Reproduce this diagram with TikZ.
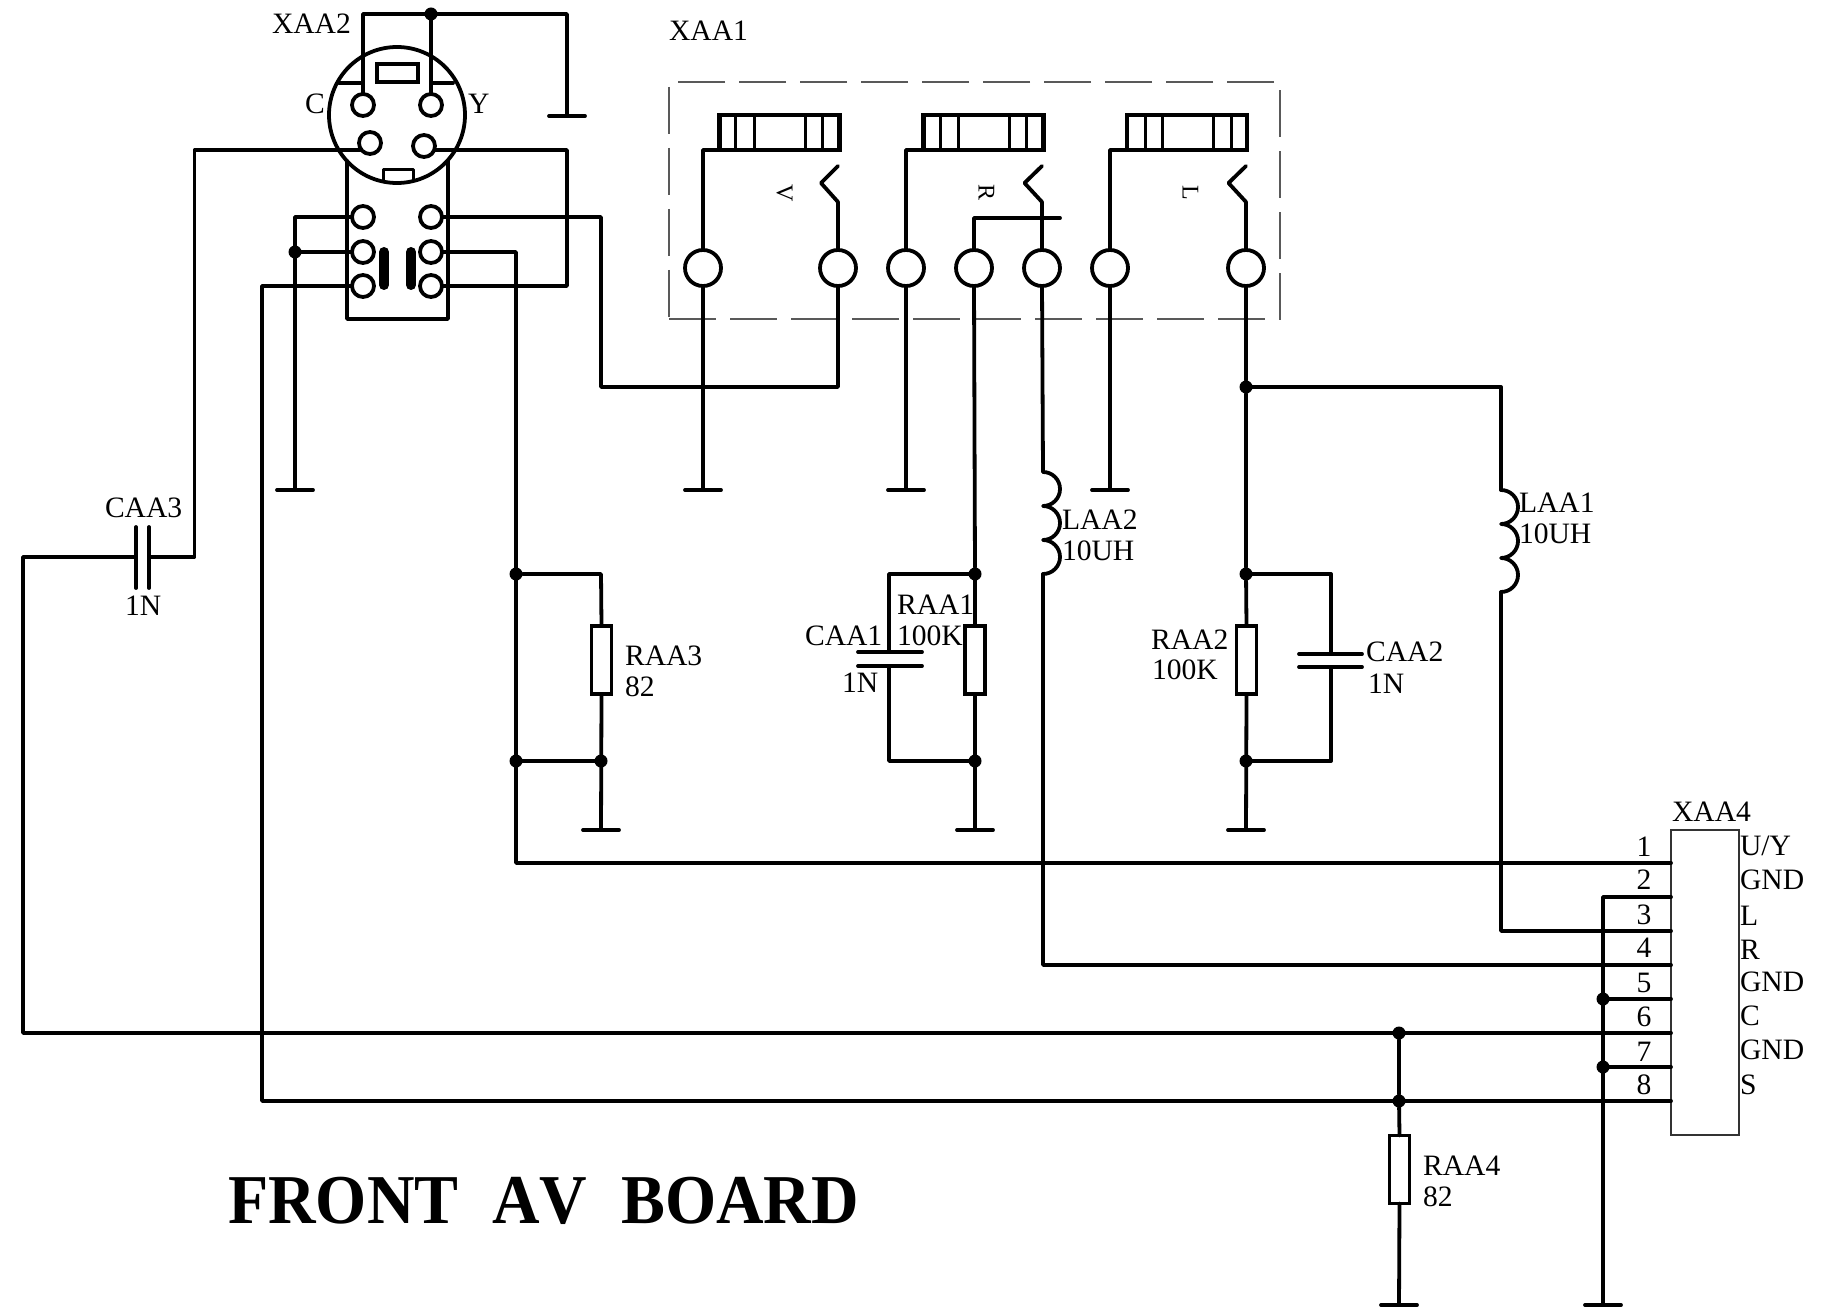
\documentclass[tikz,border=0pt]{standalone}
\usepackage{fontspec}
\usepackage{graphicx}
\setmainfont{Liberation Serif}
\tikzset{
  wire/.style={line width=3.8pt,line join=round,line cap=round},
  pinring/.style={circle,draw,line width=3.8pt,minimum size=22pt,inner sep=0pt,outer sep=0pt},
  jackpin/.style={circle,draw,line width=3.8pt,minimum size=36pt,inner sep=0pt,outer sep=0pt},
  dotj/.style={circle,fill=black,minimum size=13pt,inner sep=0pt,outer sep=0pt},
  resbox/.style={rectangle,draw,line width=3.8pt,minimum width=20pt,minimum height=68pt,inner sep=0pt,outer sep=0pt},
  jackbox/.style={rectangle,draw,line width=4.2pt,minimum width=120pt,minimum height=35pt,inner sep=0pt,outer sep=0pt},
  lbl/.style={anchor=west,inner sep=0pt,outer sep=0pt,text height=19pt,text depth=0pt,font=\fontsize{29.6}{29.6}\selectfont},
  ctr/.style={lbl,anchor=center},
  sidelbl/.style={anchor=center,inner sep=0pt,rotate=-90,font=\fontsize{24}{24}\selectfont},
  thin box/.style={rectangle,draw=black!80,line width=1.5pt,inner sep=0pt,outer sep=0pt},
  dashbox/.style={rectangle,draw=black!65,line width=1.6pt,dash pattern=on 47pt off 14pt,inner sep=0pt,outer sep=0pt,minimum width=611pt,minimum height=237pt},
}
\newcommand{\jackbars}[5]{\foreach \xb in {#2,#3,#4,#5}{\draw[line width=3pt] (\xb,115) -- (\xb,150);}}
\newcommand{\groundbar}[1]{\draw[wire] (#1) +(-18,0) -- +(18,0);}
\newcommand{\coilup}[1]{\draw[wire] (#1) arc[start angle=90,end angle=-90,radius=17pt] arc[start angle=90,end angle=-90,radius=17pt] arc[start angle=90,end angle=-90,radius=17pt];}
\begin{document}
\begin{tikzpicture}[x=1pt,y=-1pt]
\useasboundingbox (0,0) rectangle (1827,1313);

% ---------- XAA1 frame
\node[dashbox] (xaa1box) at (974.5,200.5) {};

% ---------- XAA2 socket
\node[pinring,minimum size=136pt] (xaa2c) at (397,115) {};
\node[rectangle,draw,line width=3.8pt,minimum width=41pt,minimum height=18pt,inner sep=0pt] (keytop) at (397.5,73) {};
\draw[wire] (339,83) -- (363,83) (431,83) -- (453,83);
\draw[wire,line width=3pt] (383,180) -- (383,170) -- (413,170) -- (413,180);
\draw[wire] (347,161) -- (347,319) -- (448,319) -- (448,161);
\node[pinring] (pinC) at (363,105) {};
\node[pinring] (pinY) at (431,105) {};
\node[pinring] (pinA) at (370,143) {};
\node[pinring] (pinB) at (424,146) {};
\node[pinring] (s1L) at (363,217) {};
\node[pinring] (s2L) at (363,252) {};
\node[pinring] (s3L) at (363,286) {};
\node[pinring] (s1R) at (431,217) {};
\node[pinring] (s2R) at (431,252) {};
\node[pinring] (s3R) at (431,286) {};
\draw[line width=10pt,line cap=round] (384,252) -- (384,285);
\draw[line width=10pt,line cap=round] (411,252) -- (411,285);

% ---------- jacks
\node[jackbox] (blkV) at (779.5,132.5) {};
\node[jackbox] (blkR) at (983.5,132.5) {};
\node[jackbox] (blkL) at (1187,132.5) {};
\jackbars{0}{735.5}{754}{805}{822}
\jackbars{0}{940}{958}{1009}{1026}
\jackbars{0}{1145}{1162}{1213}{1231}
\node[jackpin] (j1) at (703,268) {};
\node[jackpin] (j2) at (838,268) {};
\node[jackpin] (j3) at (906,268) {};
\node[jackpin] (j4) at (974,268) {};
\node[jackpin] (j5) at (1042,268) {};
\node[jackpin] (j6) at (1110,268) {};
\node[jackpin] (j7) at (1246,268) {};
\draw[wire] (j1.north) |- (blkV.south west);
\draw[wire] (j3.north) |- (blkR.south west);
\draw[wire] (j6.north) |- (blkL.south west);
\draw[wire] (j2.north) -- (838,202) -- (821,183) -- (838,166);
\draw[wire] (j5.north) -- (1042,202) -- (1024.5,183) -- (1042,166);
\draw[wire] (j7.north) -- (1246,202) -- (1228.5,183) -- (1246,166);
\coordinate (hookR) at (1060,218);
\draw[wire] (j4.north) |- (hookR);
\node[sidelbl] (lV) at (784.5,193) {V};
\node[sidelbl] (lR) at (986.5,193) {R};
\node[sidelbl] (lL) at (1190.5,193) {L};

% ---------- ground points
\coordinate (gTop) at (567,116);
\coordinate (gA) at (295,490);
\coordinate (gB) at (703,490);
\coordinate (gC) at (906,490);
\coordinate (gD) at (1110,490);
\coordinate (gE) at (601,830);
\coordinate (gF) at (975,830);
\coordinate (gG) at (1246,830);
\coordinate (gH) at (1399,1305);
\coordinate (gI) at (1603,1305);
\groundbar{gTop}\groundbar{gA}\groundbar{gB}\groundbar{gC}\groundbar{gD}
\groundbar{gE}\groundbar{gF}\groundbar{gG}\groundbar{gH}\groundbar{gI}

% ---------- XAA4
\node[thin box,minimum width=68pt,minimum height=305pt] (xaa4) at (1705,982.5) {};
\coordinate (p1) at (1671,863);
\coordinate (p2) at (1671,897);
\coordinate (p3) at (1671,931);
\coordinate (p4) at (1671,965);
\coordinate (p5) at (1671,999);
\coordinate (p6) at (1671,1033);
\coordinate (p7) at (1671,1067);
\coordinate (p8) at (1671,1102);

% ---------- junctions
\node[dotj] (jTop) at (431,14) {};
\node[dotj] (jG) at (295,252) {};
\node[dotj] (j3a) at (516,574) {};
\node[dotj] (j3b) at (516,761) {};
\node[dotj] (j3c) at (601,761) {};
\node[dotj] (j1a) at (975,574) {};
\node[dotj] (j1b) at (975,761) {};
\node[dotj] (j2t) at (1246,387) {};
\node[dotj] (j2a) at (1246,574) {};
\node[dotj] (j2b) at (1246,761) {};
\node[dotj] (j4a) at (1399,1033) {};
\node[dotj] (j4b) at (1399,1101) {};
\node[dotj] (jb5) at (1603,999) {};
\node[dotj] (jb7) at (1603,1067) {};

% ---------- resistors
\node[resbox] (raa3) at (601.5,660) {};
\node[resbox] (raa1) at (975,660) {};
\node[resbox] (raa2) at (1246.5,660) {};
\node[resbox] (raa4) at (1399.5,1169.5) {};

% ---------- socket wiring
\draw[wire] (pinC.north) -- (363,14) -- (567,14) -- (gTop);
\draw[wire] (jTop) -- (pinY.north);
\coordinate (pinAw) at (360,150);
\coordinate (pinBw) at (435,150);
\coordinate (capR) at (149,557);
\draw[wire] (pinAw) -- (194.5,150) -- (194.5,557) -- (capR);
\draw[wire] (pinBw) -- (567,150) -- (567,286) -- (s3R.east);
\draw[wire] (s1L.west) -- (295,217) -- (gA);
\draw[wire] (s2L.west) -- (jG);
\draw[wire] (s3L.west) -- (262,286) -- (262,1101) -- (j4b);
\draw[wire] (j4b) -- (1671,1101);
\draw[wire] (s1R.east) -- (601,217) -- (601,387) -- (838,387) -- (j2.south);
\draw[wire] (s2R.east) -- (516,252) -- (516,863) -- (p1);
\draw[wire] (j3a) -- (601,574) -- (raa3.north);
\draw[wire] (raa3.south) -- (gE);
\draw[wire] (j3b) -- (j3c);

% ---------- CAA3
\coordinate (capL) at (136,557);
\draw[wire] (136,527) -- (136,588);
\draw[wire] (149,527) -- (149,588);
\draw[wire] (capL) -- (23,557) -- (23,1033) -- (j4a);
\draw[wire] (j4a) -- (p6);

% ---------- jack verticals
\draw[wire] (j1.south) -- (gB);
\draw[wire] (j3.south) -- (gC);
\draw[wire] (j6.south) -- (gD);
\draw[wire] (j4.south) -- (j1a);
\draw[wire] (j1a) -- (raa1.north);
\draw[wire] (raa1.south) -- (gF);

% ---------- CAA1
\coordinate (c1t) at (889,652);
\coordinate (c1b) at (889,666);
\draw[wire] (858,652) -- (922,652);
\draw[wire] (858,666) -- (922,666);
\draw[wire] (j1a) -- (889,574) -- (c1t);
\draw[wire] (c1b) -- (889,761) -- (j1b);

% ---------- LAA2
\coordinate (l2t) at (1043,472);
\coordinate (l2b) at (1043,574);
\coordinate (w4) at (1043,965);
\coilup{l2t}
\draw[wire] (j5.south) -- (l2t);
\draw[wire] (l2b) -- (w4) -- (p4);

% ---------- right branch
\draw[wire] (j7.south) -- (j2t) -- (j2a) -- (raa2.north);
\draw[wire] (raa2.south) -- (gG);
\coordinate (l1t) at (1501,490);
\coordinate (l1b) at (1501,592);
\coilup{l1t}
\draw[wire] (j2t) -- (1501,387) -- (l1t);
\draw[wire] (l1b) -- (1501,931) -- (p3);
\coordinate (c2t) at (1331,654);
\coordinate (c2b) at (1331,667);
\draw[wire] (1299,654) -- (1362,654);
\draw[wire] (1299,667) -- (1362,667);
\draw[wire] (j2a) -- (1331,574) -- (c2t);
\draw[wire] (c2b) -- (1331,761) -- (j2b);

% ---------- RAA4 and bus
\draw[wire] (j4a) -- (j4b) -- (raa4.north);
\draw[wire] (raa4.south) -- (gH);
\draw[wire] (p2) -- (1603,897) -- (gI);
\draw[wire] (jb5) -- (p5);
\draw[wire] (jb7) -- (p7);

% ---------- labels
\node[lbl] (tXAA2) at (272,24) {XAA2};
\node[lbl] (tC) at (305,104) {C};
\node[lbl] (tY) at (468,104) {Y};
\node[lbl] (tXAA1) at (669,31) {XAA1};
\node[lbl] (tCAA3) at (105,508) {CAA3};
\node[lbl] (tCAA3v) at (125,606) {1N};
\node[lbl] (tRAA3) at (625,656) {RAA3};
\node[lbl] (tRAA3v) at (625,687) {82};
\node[lbl] (tRAA1) at (897,605) {RAA1};
\node[lbl] (tRAA1v) at (897,636) {100K};
\node[lbl] (tCAA1) at (805,636) {CAA1};
\node[lbl] (tCAA1v) at (842,683) {1N};
\node[lbl] (tLAA2) at (1062,520) {LAA2};
\node[lbl] (tLAA2v) at (1062,551) {10UH};
\node[lbl] (tRAA2) at (1151,640) {RAA2};
\node[lbl] (tRAA2v) at (1152,670) {100K};
\node[lbl] (tCAA2) at (1366,652) {CAA2};
\node[lbl] (tCAA2v) at (1368,684) {1N};
\node[lbl] (tLAA1) at (1519,503) {LAA1};
\node[lbl] (tLAA1v) at (1519,534) {10UH};
\node[lbl] (tRAA4) at (1423,1166) {RAA4};
\node[lbl] (tRAA4v) at (1423,1197) {82};
\node[lbl] (tXAA4) at (1672,812) {XAA4};
\node[ctr] (n1) at (1644,847) {1};
\node[ctr] (n2) at (1644,880) {2};
\node[ctr] (n3) at (1644,915) {3};
\node[ctr] (n4) at (1644,948) {4};
\node[ctr] (n5) at (1644,983) {5};
\node[ctr] (n6) at (1644,1017) {6};
\node[ctr] (n7) at (1644,1052) {7};
\node[ctr] (n8) at (1644,1085) {8};
\node[lbl] (nm1) at (1740,846) {U/Y};
\node[lbl] (nm2) at (1740,880) {GND};
\node[lbl] (nm3) at (1740,916) {L};
\node[lbl] (nm4) at (1740,950) {R};
\node[lbl] (nm5) at (1740,982) {GND};
\node[lbl] (nm6) at (1740,1016) {C};
\node[lbl] (nm7) at (1740,1050) {GND};
\node[lbl] (nm8) at (1740,1085) {S};
\node[anchor=west,inner sep=0pt,text height=46pt,text depth=0pt,font=\fontsize{70}{70}\selectfont\bfseries\addfontfeature{Kerning=Off}] (title) at (228,1200) {\scalebox{0.94}[1]{FRONT\hspace{36pt}AV\hspace{36pt}BOARD}};
\end{tikzpicture}
\end{document}
